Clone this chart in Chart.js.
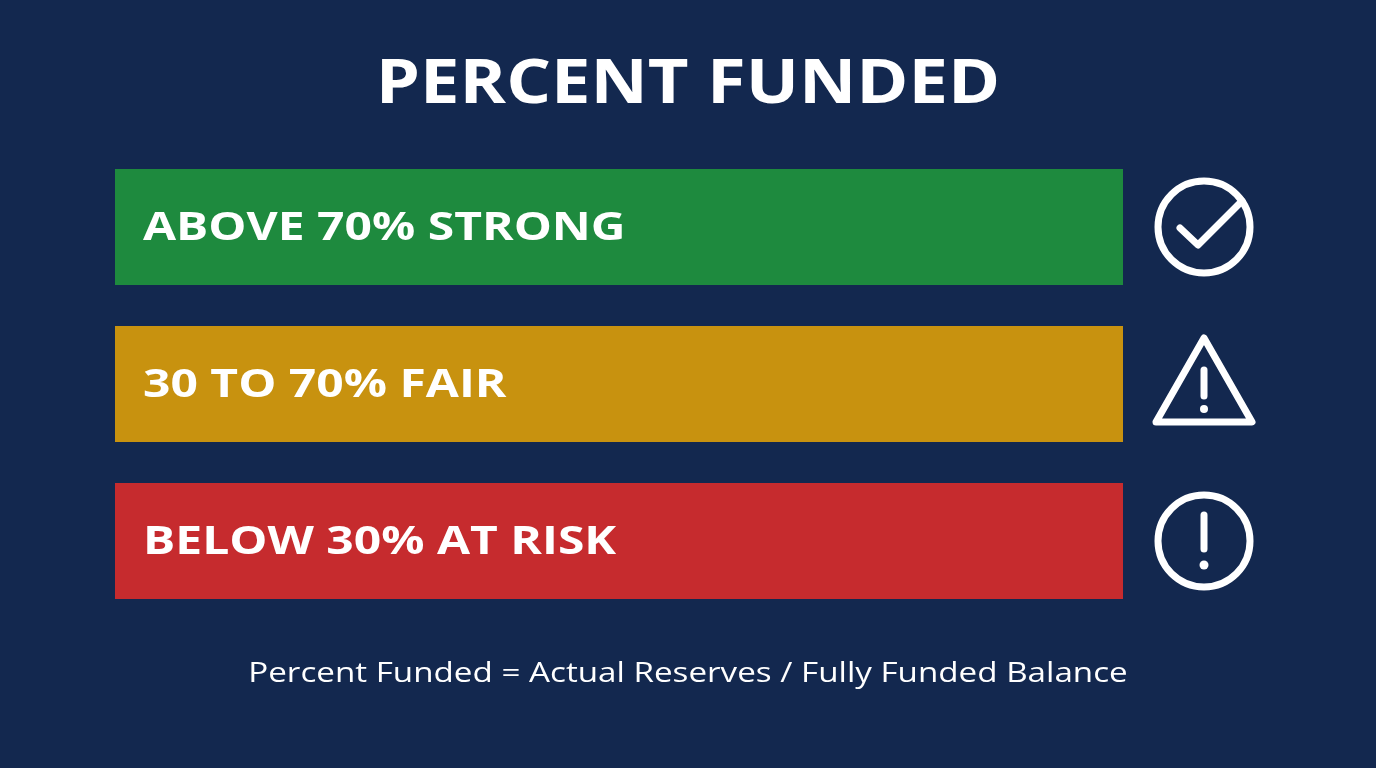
<!DOCTYPE html>
<html>
<head>
<meta charset="utf-8">
<script src="https://cdn.jsdelivr.net/npm/chart.js@4/dist/chart.umd.min.js"></script>
<style>
  html, body { margin: 0; padding: 0; background: #13284f; }
  #wrap { width: 1376px; height: 768px; }
</style>
</head>
<body>
<div id="wrap"><canvas id="chart"></canvas></div>
<script>
const labels = ["ABOVE 70% STRONG", "30 TO 70% FAIR", "BELOW 30% AT RISK"];
const values = [100, 100, 100];
const colors = ["#1e8a3e", "#c8920f", "#c62b2e"];
const icons = ["check", "warning", "alert"];
const titleText = "PERCENT FUNDED";
const footerText = "Percent Funded = Actual Reserves / Fully Funded Balance";

// draw text stretched horizontally by a factor, keeping its height
function wideText(c, text, x, y, sx) {
  c.save();
  c.translate(x, y);
  c.scale(sx, 1);
  c.fillText(text, 0, 0);
  c.restore();
}

const overlay = {
  id: "overlay",
  afterDraw(chart) {
    const c = chart.ctx;
    c.save();
    c.fillStyle = "#ffffff";
    c.textAlign = "center";
    c.textBaseline = "middle";
    c.font = "bold 60px 'Open Sans', sans-serif";
    wideText(c, titleText, 688, 86, 1.175);
    c.font = "28px 'Open Sans', sans-serif";
    wideText(c, footerText, 688, 674, 1.185);

    const meta = chart.getDatasetMeta(0);
    meta.data.forEach((bar, i) => {
      c.textAlign = "left";
      c.font = "bold 40px 'Open Sans', sans-serif";
      c.fillStyle = "#ffffff";
      wideText(c, labels[i], bar.base + 28, bar.y + 2, 1.2);

      const cx = 1204, cy = bar.y;
      c.strokeStyle = "#ffffff";
      c.lineWidth = 7;
      c.lineCap = "round";
      c.lineJoin = "round";
      if (icons[i] === "check") {
        c.beginPath(); c.arc(cx, cy, 46, 0, Math.PI * 2); c.stroke();
        c.beginPath();
        c.moveTo(cx - 24, cy + 1); c.lineTo(cx - 6, cy + 18); c.lineTo(cx + 38, cy - 26);
        c.stroke();
      } else if (icons[i] === "warning") {
        c.beginPath();
        c.moveTo(cx, cy - 46); c.lineTo(cx + 48, cy + 38); c.lineTo(cx - 48, cy + 38); c.closePath();
        c.stroke();
        c.beginPath(); c.moveTo(cx, cy - 14); c.lineTo(cx, cy + 12); c.stroke();
        c.beginPath(); c.arc(cx, cy + 25, 4, 0, Math.PI * 2); c.fillStyle = "#fff"; c.fill();
      } else {
        c.beginPath(); c.arc(cx, cy, 46, 0, Math.PI * 2); c.stroke();
        c.beginPath(); c.moveTo(cx, cy - 26); c.lineTo(cx, cy + 8); c.stroke();
        c.beginPath(); c.arc(cx, cy + 24, 4.5, 0, Math.PI * 2); c.fillStyle = "#fff"; c.fill();
      }
    });
    c.restore();
  }
};

new Chart(document.getElementById("chart"), {
  type: "bar",
  data: {
    labels: labels,
    datasets: [{
      data: values,
      backgroundColor: colors,
      borderWidth: 0,
      categoryPercentage: 1,
      barPercentage: 0.739
    }]
  },
  options: {
    indexAxis: "y",
    responsive: true,
    maintainAspectRatio: false,
    animation: false,
    layout: { padding: { left: 115, right: 253, top: 148.5, bottom: 148.5 } },
    scales: {
      x: { display: false, min: 0, max: 100 },
      y: { display: false }
    },
    plugins: { legend: { display: false }, tooltip: { enabled: false } }
  },
  plugins: [overlay]
});
</script>
</body>
</html>
